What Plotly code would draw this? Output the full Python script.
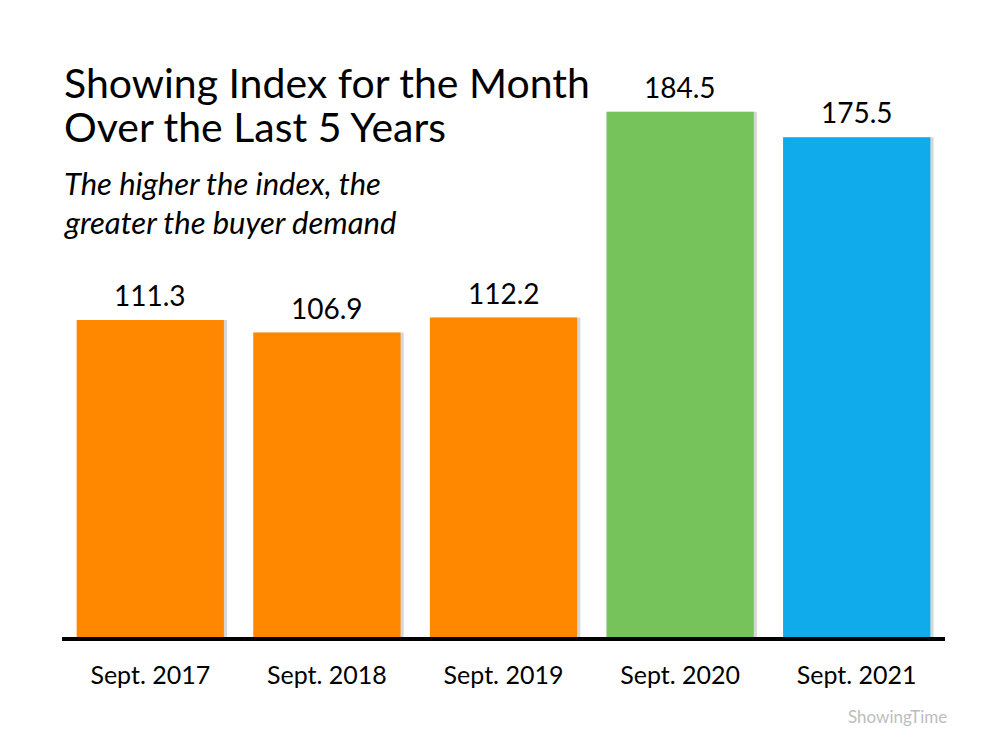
"""Showing Index bar chart, Sept. 2017-2021"""
import plotly.graph_objects as go

# data
months = ["Sept. 2017", "Sept. 2018", "Sept. 2019", "Sept. 2020", "Sept. 2021"]
index_values = [111.3, 106.9, 112.2, 184.5, 175.5]
bar_colors = ["#FF8800", "#FF8800", "#FF8800", "#77C35B", "#0FABEB"]

FONT = "Lato"

fig = go.Figure()

# faint shadow behind each bar
fig.add_trace(go.Bar(
    x=months, y=index_values, marker=dict(color="rgba(0,0,0,0.16)", line=dict(width=0)),
    offset=-0.405, width=0.84, hoverinfo="skip", showlegend=False,
))
fig.add_trace(go.Bar(
    x=months, y=index_values, marker=dict(color=bar_colors, line=dict(width=0)),
    offset=-0.417, width=0.834, showlegend=False,
))

# value labels
for m, v in zip(months, index_values):
    fig.add_annotation(x=m, y=v, text=f"{v:.1f}", showarrow=False,
                       yanchor="bottom", yshift=6,
                       font=dict(family=FONT, size=28, color="black"))

# title / subtitle / source
def note(text, y, size, color="black", x=0.0, xanchor="left"):
    fig.add_annotation(xref="paper", yref="paper", x=x, y=y, xanchor=xanchor, yanchor="middle",
                       text=text, showarrow=False, align="left",
                       font=dict(family=FONT, size=size, color=color))

note("Showing Index for the Month", 0.960, 41)
note("Over the Last 5 Years", 0.884, 41)
note("<i>The higher the index, the</i>", 0.785, 31)
note("<i>greater the buyer demand</i>", 0.718, 31)
note("ShowingTime", -0.137, 17, color="#BDBDBD", x=1.005, xanchor="right")

fig.update_layout(
    width=1000, height=750,
    margin=dict(l=54, r=63, t=51, b=121),
    paper_bgcolor="white", plot_bgcolor="white",
    barmode="overlay",
    xaxis=dict(showline=True, linecolor="black", linewidth=4, ticks="",
               tickfont=dict(family=FONT, size=25, color="black"),
               ticklabelstandoff=13, showgrid=False, zeroline=False),
    yaxis=dict(range=[0, 203], visible=False, showgrid=False, zeroline=False),
)

fig.write_html("out.html")
